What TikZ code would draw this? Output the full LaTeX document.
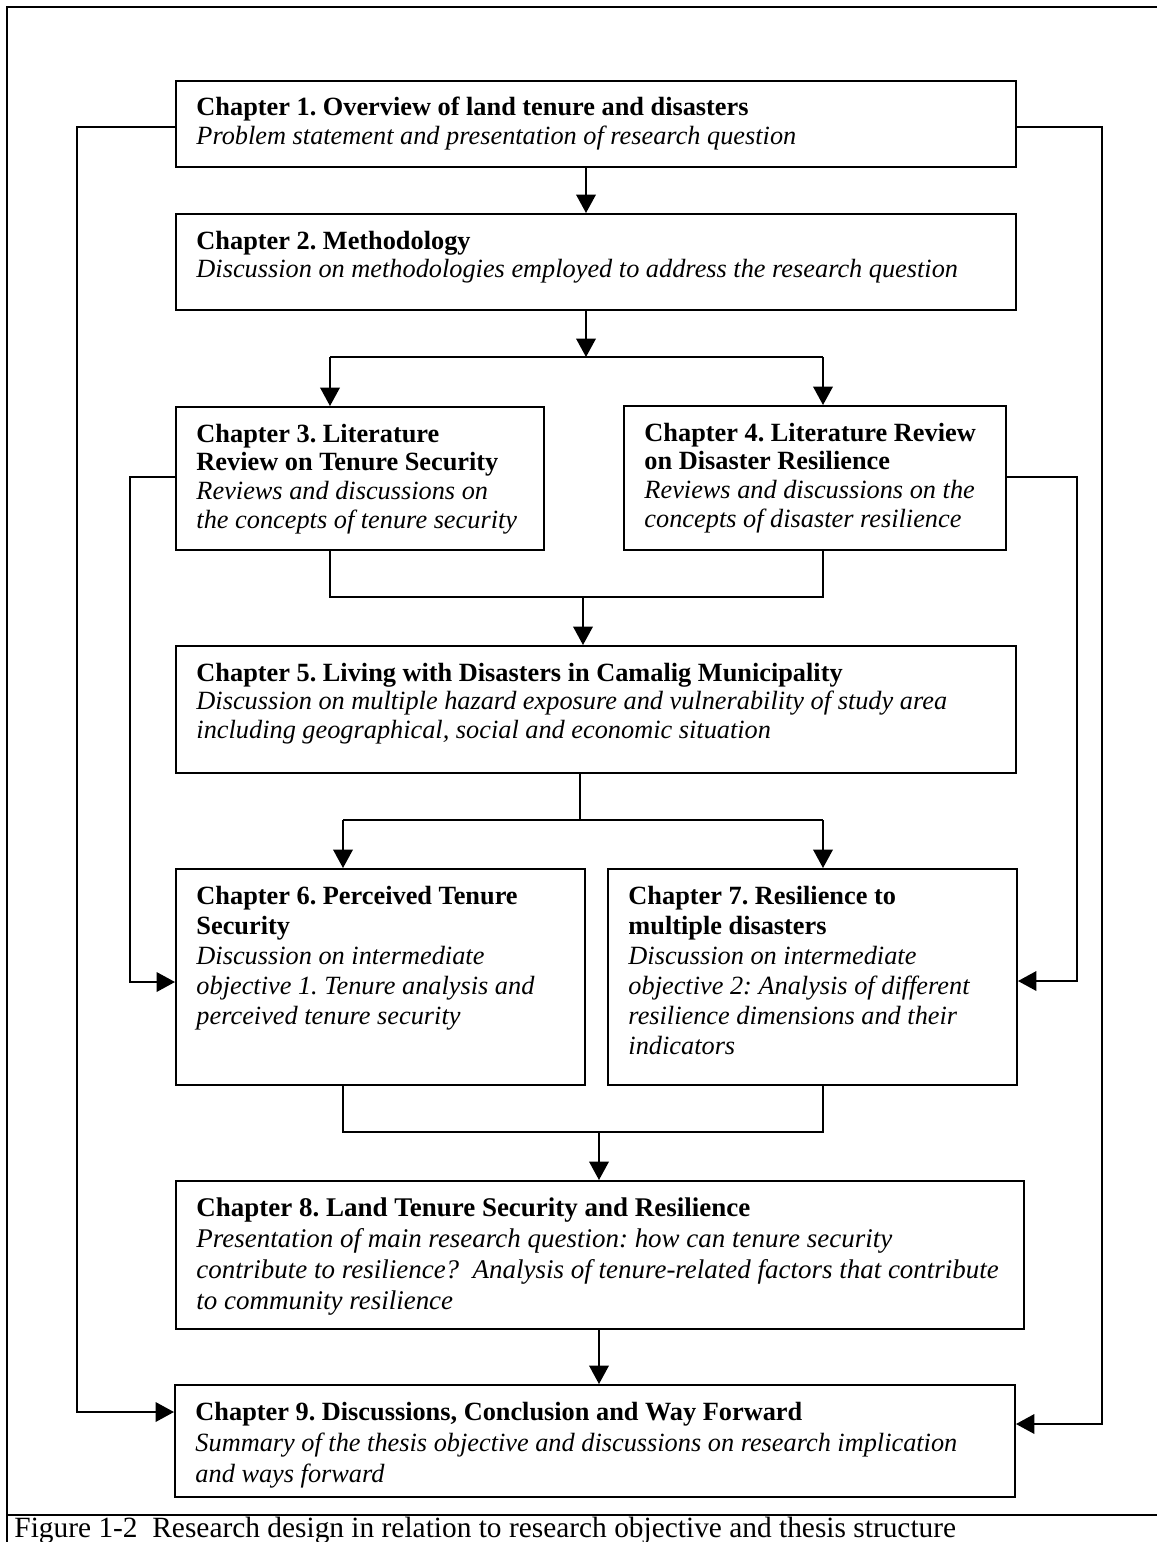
\documentclass[tikz,border=0pt]{standalone}
\usepackage{fontspec}
\setmainfont{Liberation Serif}
\usetikzlibrary{arrows.meta}

% one drawing unit
\newdimen\pxu \pxu=0.456pt

% text block of a chapter box: width, height, line pitch, lines
\newcommand\chapbody[4]{%
  \parbox[c][#2\pxu][t]{#1\pxu}{\raggedright\frenchspacing\leftskip=20.5\pxu
    \fontsize{12pt}{#3}\selectfont\rule{0pt}{35\pxu}#4}}

\tikzset{
  chapbox/.style={draw, line width=0.9pt, anchor=north west, inner sep=0pt, fill=white},
  conn/.style={line width=0.9pt},
  arr/.style={line width=0.9pt, -{Triangle[width=8.9pt,length=8.4pt]}},
  frameline/.style={line width=1.2pt}
}

\begin{document}
\begin{tikzpicture}[x=0.456pt, y=-0.456pt]
\useasboundingbox (0,0) rectangle (1157,1542);
\clip (0,0) rectangle (1157,1542);

% page frame and caption rule
\draw[frameline] (1170,7) -- (7,7) -- (7,1560);
\draw[frameline] (7,1515) -- (1170,1515);

% chapter boxes
\node[chapbox] (c1) at (175,80) {\chapbody{840}{86}{13.22pt}{%
  \textbf{Chapter 1. Overview of land tenure and disasters}\\
  \textit{Problem statement and presentation of research question}}};
\node[chapbox] (c2) at (175,213) {\chapbody{840}{96}{13.22pt}{%
  \textbf{Chapter 2. Methodology}\\
  \textit{Discussion on methodologies employed to address the research question}}};
\node[chapbox] (c3) at (175,406) {\chapbody{368}{143}{13.22pt}{%
  \textbf{Chapter 3. Literature}\\
  \textbf{Review on Tenure Security}\\
  \textit{Reviews and discussions on}\\
  \textit{the concepts of tenure security}}};
\node[chapbox] (c4) at (623,405) {\chapbody{382}{144}{13.22pt}{%
  \textbf{Chapter 4. Literature Review}\\
  \textbf{on Disaster Resilience}\\
  \textit{Reviews and discussions on the}\\
  \textit{concepts of disaster resilience}}};
\node[chapbox] (c5) at (175,645) {\chapbody{840}{127}{13.22pt}{%
  \textbf{Chapter 5. Living with Disasters in Camalig Municipality}\\
  \textit{Discussion on multiple hazard exposure and vulnerability of study area}\\
  \textit{including geographical, social and economic situation}}};
\node[chapbox] (c6) at (175,868) {\chapbody{409}{216}{13.7pt}{%
  \textbf{Chapter 6. Perceived Tenure}\\
  \textbf{Security}\\
  \textit{Discussion on intermediate}\\
  \textit{objective 1. Tenure analysis and}\\
  \textit{perceived tenure security}}};
\node[chapbox] (c7) at (607,868) {\chapbody{409}{216}{13.7pt}{%
  \textbf{Chapter 7. Resilience to}\\
  \textbf{multiple disasters}\\
  \textit{Discussion on intermediate}\\
  \textit{objective 2: Analysis of different}\\
  \textit{resilience dimensions and their}\\
  \textit{indicators}}};
\node[chapbox] (c8) at (175,1180) {\chapbody{848}{148}{14.2pt}{%
  \fontsize{12.3pt}{14.2pt}\selectfont
  \textbf{Chapter 8. Land Tenure Security and Resilience}\\
  \textit{Presentation of main research question: how can tenure security}\\
  \textit{contribute to resilience?\ \ Analysis of tenure-related factors that contribute}\\
  \textit{to community resilience}}};
\node[chapbox] (c9) at (174,1384) {\chapbody{840}{112}{14.2pt}{%
  \textbf{Chapter 9. Discussions, Conclusion and Way Forward}\\
  \textit{Summary of the thesis objective and discussions on research implication}\\
  \textit{and ways forward}}};

% junction points
\coordinate (s1) at (586,357);
\coordinate (s1l) at (330,357);
\coordinate (s1r) at (823,357);
\coordinate (m1) at (583,597);
\coordinate (m1l) at (330,597);
\coordinate (m1r) at (823,597);
\coordinate (s2) at (580,820);
\coordinate (s2l) at (343,820);
\coordinate (s2r) at (823,820);
\coordinate (m2) at (599,1132);
\coordinate (m2l) at (343,1132);
\coordinate (m2r) at (823,1132);
\coordinate (lt) at (77,127);
\coordinate (lb) at (77,1412);
\coordinate (rt) at (1102,127);
\coordinate (rb) at (1102,1424);
\coordinate (it) at (130,477);
\coordinate (ib) at (130,982);
\coordinate (jt) at (1077,477);
\coordinate (jb) at (1077,981);

% main flow
\draw[arr] (s1 |- c1.south) -- (s1 |- c2.north);
\draw[arr] (s1 |- c2.south) -- (s1);
\draw[conn] (s1l) -- (s1r);
\draw[arr] (s1l) -- (s1l |- c3.north);
\draw[arr] (s1r) -- (s1r |- c4.north);

\draw[conn] (m1l |- c3.south) -- (m1l) -- (m1r) -- (m1r |- c4.south);
\draw[arr] (m1) -- (m1 |- c5.north);

\draw[conn] (s2 |- c5.south) -- (s2);
\draw[conn] (s2l) -- (s2r);
\draw[arr] (s2l) -- (s2l |- c6.north);
\draw[arr] (s2r) -- (s2r |- c7.north);

\draw[conn] (m2l |- c6.south) -- (m2l) -- (m2r) -- (m2r |- c7.south);
\draw[arr] (m2) -- (m2 |- c8.north);
\draw[arr] (m2 |- c8.south) -- (m2 |- c9.north);

% side links
\draw[arr] (lt -| c1.west) -- (lt) -- (lb) -- (lb -| c9.west);
\draw[arr] (rt -| c1.east) -- (rt) -- (rb) -- (rb -| c9.east);
\draw[arr] (it -| c3.west) -- (it) -- (ib) -- (ib -| c6.west);
\draw[arr] (jt -| c4.east) -- (jt) -- (jb) -- (jb -| c7.east);

% caption
\node[anchor=base west, inner sep=0pt] (cap) at (14,1537)
  {\fontsize{13.4pt}{15pt}\selectfont Figure 1-2\ \ Research design in relation to research objective and thesis structure};
\end{tikzpicture}
\end{document}
